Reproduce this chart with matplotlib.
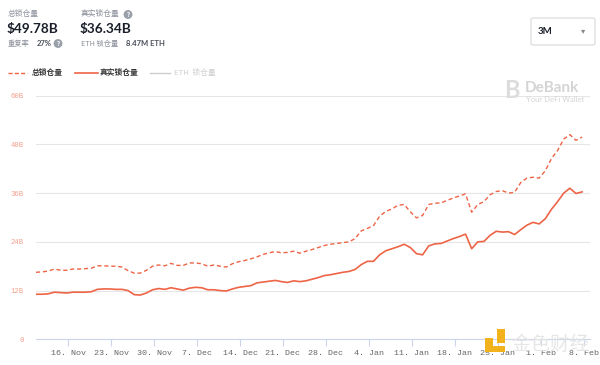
import pandas as pd
import numpy as np
import matplotlib
matplotlib.use('Agg')
import matplotlib.pyplot as plt
import matplotlib.dates as mdates
from matplotlib.patches import FancyBboxPatch, Rectangle

plt.rcParams['font.family'] = ['Noto Sans CJK SC', 'DejaVu Sans']

# daily TVL, billions USD, 10 Nov 2020 -> 7 Feb 2021
dates = pd.date_range('2020-11-10 18:00', periods=90, freq='D')

total_tvl = [16.5, 16.6, 16.8, 17.3, 17.0, 17.0, 17.3, 17.3, 17.4, 17.5,
             18.1, 18.1, 18.0, 18.0, 17.8, 16.9, 16.3, 16.3, 17.0, 18.0,
             18.3, 18.1, 18.7, 18.2, 18.2, 18.8, 18.8, 18.6, 18.0, 18.3,
             18.0, 17.8, 18.6, 19.1, 19.4, 19.8, 20.3, 20.9, 21.3, 21.6,
             21.3, 21.4, 21.7, 21.2, 21.7, 22.1, 22.6, 23.1, 23.4, 23.6,
             23.8, 24.0, 24.8, 26.7, 27.3, 28.0, 30.3, 31.5, 32.1, 33.0,
             33.2, 31.4, 29.9, 30.5, 33.2, 33.5, 33.6, 34.2, 34.8, 35.3,
             35.8, 31.3, 33.2, 33.9, 35.6, 36.4, 36.6, 36.0, 36.2, 38.6,
             39.7, 39.9, 39.7, 41.5, 44.5, 46.5, 49.3, 50.4, 49.0, 49.8]

real_tvl = [11.1, 11.1, 11.2, 11.6, 11.5, 11.4, 11.6, 11.6, 11.6, 11.7,
            12.3, 12.4, 12.4, 12.3, 12.3, 12.0, 11.0, 10.9, 11.4, 12.2,
            12.5, 12.3, 12.7, 12.4, 12.1, 12.6, 12.8, 12.7, 12.2, 12.2,
            12.0, 11.9, 12.4, 12.8, 13.0, 13.2, 13.9, 14.1, 14.3, 14.5,
            14.2, 14.0, 14.4, 14.2, 14.4, 14.8, 15.2, 15.7, 15.9, 16.2,
            16.5, 16.7, 17.2, 18.4, 19.2, 19.2, 20.8, 21.8, 22.3, 22.8,
            23.4, 22.6, 21.1, 20.8, 23.0, 23.5, 23.6, 24.2, 24.8, 25.3,
            25.9, 22.3, 24.0, 24.1, 25.6, 26.6, 26.4, 26.5, 25.8, 27.0,
            28.1, 28.8, 28.4, 29.7, 32.0, 33.9, 36.0, 37.2, 35.9, 36.3]

y_ticks = [0, 12, 24, 36, 48, 60]
y_labels = ['0', '12B', '24B', '36B', '48B', '60B']

line_color = '#ee6446'
label_gray = '#8a8f99'

fig = plt.figure(figsize=(6, 3.65), dpi=100)
ax = fig.add_axes([0.06, 0.0704, 0.923, 0.6676])

ax.plot(dates, total_tvl, color=line_color, lw=1.0, ls=(0, (3, 2)))
ax.plot(dates, real_tvl, color=line_color, lw=1.2)

ax.set_ylim(0, 60)
ax.set_xlim(dates[0], dates[-1] + pd.Timedelta(hours=30))
ax.set_yticks(y_ticks)
ax.set_yticklabels(y_labels)
ax.grid(axis='y', color='#e6e6e6', lw=0.8)
ax.set_axisbelow(True)
for side in ['top', 'right', 'left']:
    ax.spines[side].set_visible(False)
ax.spines['bottom'].set_color('#ccd6eb')
ax.spines['bottom'].set_linewidth(0.8)

ax.xaxis.set_major_locator(mdates.WeekdayLocator(byweekday=mdates.MO))
ax.xaxis.set_major_formatter(mdates.DateFormatter('%-d. %b'))
ax.tick_params(axis='x', colors='#ccd6eb', length=5, width=0.8, pad=3)
ax.tick_params(axis='y', length=0, pad=9)
for lbl in ax.get_xticklabels():
    lbl.set_color('#666666')
    lbl.set_fontsize(6)
    lbl.set_family('Liberation Mono')
for lbl in ax.get_yticklabels():
    lbl.set_color('#f2a08e')
    lbl.set_fontsize(5.2)
    lbl.set_family('Liberation Mono')

# header stats
fig.text(8/600, 1 - 14/365, '总锁仓量', fontsize=5.6, color=label_gray, va='center')
fig.text(7/600, 1 - 28.5/365, '$49.78B', fontsize=9.8, color='#1b1f2a', va='center',
         family='Lato', weight='bold')
fig.text(8/600, 1 - 44/365, '重复率', fontsize=5.2, color=label_gray, va='center')
fig.text(37/600, 1 - 44/365, '27%', fontsize=5.5, color='#4a4f5a', va='center',
         family='Lato', weight='bold')
fig.text(58/600, 1 - 43.5/365, '?', fontsize=4.5, color='white', va='center', ha='center',
         weight='bold', bbox=dict(boxstyle='circle,pad=0.15', fc='#9aa0aa', ec='none'))

fig.text(81/600, 1 - 14/365, '真实锁仓量', fontsize=5.6, color=label_gray, va='center')
fig.text(128/600, 1 - 14.5/365, '?', fontsize=4.5, color='white', va='center', ha='center',
         weight='bold', bbox=dict(boxstyle='circle,pad=0.15', fc='#9aa0aa', ec='none'))
fig.text(80/600, 1 - 28.5/365, '$36.34B', fontsize=9.8, color='#1b1f2a', va='center',
         family='Lato', weight='bold')
fig.text(81/600, 1 - 44/365, 'ETH 锁仓量', fontsize=5.2, color=label_gray, va='center')
fig.text(126/600, 1 - 44/365, '8.47M ETH', fontsize=5.5, color='#4a4f5a', va='center',
         family='Lato', weight='bold')

# period selector
box = FancyBboxPatch((531/600, 1 - 45/365), 64/600, 27/365,
                     boxstyle='round,pad=0,rounding_size=0.004',
                     transform=fig.transFigure, fc='white', ec='#d9d9d9', lw=0.8)
fig.patches.append(box)
fig.text(538/600, 1 - 31/365, '3M', fontsize=7, color='#1b1f2a', va='center',
         family='Lato', weight='bold')
fig.text(583/600, 1 - 31/365, '▾', fontsize=6, color='#888888', va='center', ha='center',
         family='DejaVu Sans')

# legend
ly = 1 - 73/365
fig.add_artist(plt.Line2D([8/600, 27/600], [ly, ly], color=line_color, lw=1.0,
                          ls=(0, (3, 1.5)), transform=fig.transFigure))
fig.text(32/600, ly, '总锁仓量', fontsize=5.6, color='#333333', va='center', weight='bold')
fig.add_artist(plt.Line2D([75/600, 98/600], [ly, ly], color=line_color, lw=1.2,
                          transform=fig.transFigure))
fig.text(100/600, ly, '真实锁仓量', fontsize=5.6, color='#333333', va='center', weight='bold')
fig.add_artist(plt.Line2D([150/600, 170/600], [ly, ly], color='#cccccc', lw=1.0,
                          transform=fig.transFigure))
fig.text(174/600, ly, 'ETH  锁仓量', fontsize=5.6, color='#cfcfcf', va='center')

# DeBank watermark
fig.text(512/600, 1 - 90/365, 'B', fontsize=17, color='#dcdcdc', va='center', ha='center',
         weight='bold', family='Lato')
fig.text(525/600, 1 - 88/365, 'DeBank', fontsize=11, color='#d4d4d4', va='center',
         weight='bold', family='Lato')
fig.text(526/600, 1 - 99/365, 'Your DeFi Wallet', fontsize=5.5, color='#d4d4d4',
         va='center', family='Lato')

# 金色财经 watermark
fig.patches.append(Rectangle((485/600, 1 - 352/365), 8/600, 14/365,
                             transform=fig.transFigure, fc='#f2b21b', ec='none'))
fig.patches.append(Rectangle((485/600, 1 - 352/365), 20/600, 6/365,
                             transform=fig.transFigure, fc='#f2b21b', ec='none'))
fig.patches.append(Rectangle((497/600, 1 - 343/365), 8/600, 14/365,
                             transform=fig.transFigure, fc='#f2b21b', ec='none'))
fig.text(511/600, 1 - 344/365, '金色财经', fontsize=14, color='#e4e4e4', va='center',
         alpha=0.9)

fig.savefig('out.png', dpi=100, facecolor='white')
